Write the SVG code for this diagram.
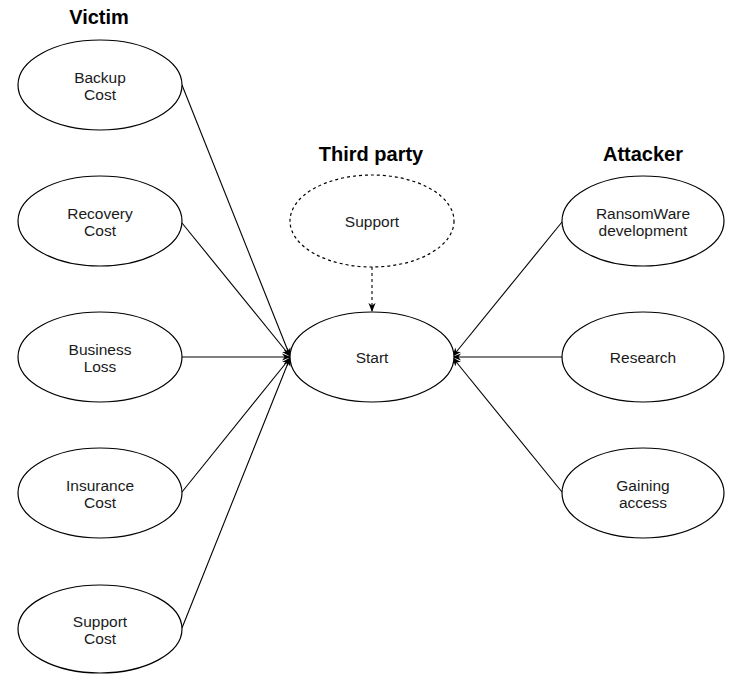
<svg xmlns="http://www.w3.org/2000/svg" width="734" height="674" viewBox="0 0 734 674">
<defs>
<marker id="arr" viewBox="0 0 10 10" refX="9" refY="5" markerWidth="9" markerHeight="9" orient="auto" markerUnits="userSpaceOnUse">
<path d="M0,1 L10,5 L0,9 L3,5 Z" fill="#000"/>
</marker>
</defs>
<style>
.n{fill:#fff;stroke:#000;stroke-width:1.2}
.d{stroke-dasharray:3 3}
.t{font-family:"Liberation Sans",Arial,sans-serif;font-size:15.5px;fill:#1a1a1a;text-anchor:middle}
.h{font-family:"Liberation Sans",Arial,sans-serif;font-size:20px;font-weight:bold;fill:#000;text-anchor:middle}
.c{stroke:#000;stroke-width:1.1;fill:none;marker-end:url(#arr)}
</style>
<rect width="734" height="674" fill="#fff"/>
<text class="h" x="99" y="24">Victim</text>
<text class="h" x="371" y="161">Third party</text>
<text class="h" x="643" y="161">Attacker</text>
<g id="connectors">
<line class="c" x1="182" y1="85" x2="290" y2="356"/>
<line class="c" x1="182" y1="223" x2="290" y2="356"/>
<line class="c" x1="182" y1="357" x2="290" y2="357"/>
<line class="c" x1="182" y1="492" x2="290" y2="358"/>
<line class="c" x1="182" y1="628" x2="290" y2="358"/>
<line class="c" x1="562" y1="222" x2="453" y2="356"/>
<line class="c" x1="562" y1="357" x2="453" y2="357"/>
<line class="c" x1="562" y1="492" x2="453" y2="358"/>
<line class="c d" x1="372" y1="267" x2="372" y2="311"/>
</g>
<g id="backup"><ellipse class="n" cx="100" cy="85" rx="82" ry="45"/><text class="t" x="100" y="83">Backup</text><text class="t" x="100" y="100">Cost</text></g>
<g id="recovery"><ellipse class="n" cx="100" cy="221" rx="82" ry="45"/><text class="t" x="100" y="219">Recovery</text><text class="t" x="100" y="236">Cost</text></g>
<g id="business"><ellipse class="n" cx="100" cy="357" rx="82" ry="45"/><text class="t" x="100" y="355">Business</text><text class="t" x="100" y="372">Loss</text></g>
<g id="insurance"><ellipse class="n" cx="100" cy="493" rx="82" ry="45"/><text class="t" x="100" y="491">Insurance</text><text class="t" x="100" y="508">Cost</text></g>
<g id="supportcost"><ellipse class="n" cx="100" cy="629" rx="82" ry="44"/><text class="t" x="100" y="627">Support</text><text class="t" x="100" y="644">Cost</text></g>
<g id="support"><ellipse class="n d" cx="372" cy="221" rx="82" ry="46"/><text class="t" x="372" y="227">Support</text></g>
<g id="start"><ellipse class="n" cx="372" cy="357" rx="82" ry="45"/><text class="t" x="372" y="363">Start</text></g>
<g id="ransomware"><ellipse class="n" cx="643" cy="221" rx="81" ry="45"/><text class="t" x="643" y="219">RansomWare</text><text class="t" x="643" y="236">development</text></g>
<g id="research"><ellipse class="n" cx="643" cy="357" rx="81" ry="45"/><text class="t" x="643" y="363">Research</text></g>
<g id="gaining"><ellipse class="n" cx="643" cy="493" rx="81" ry="45"/><text class="t" x="643" y="491">Gaining</text><text class="t" x="643" y="508">access</text></g>
</svg>
